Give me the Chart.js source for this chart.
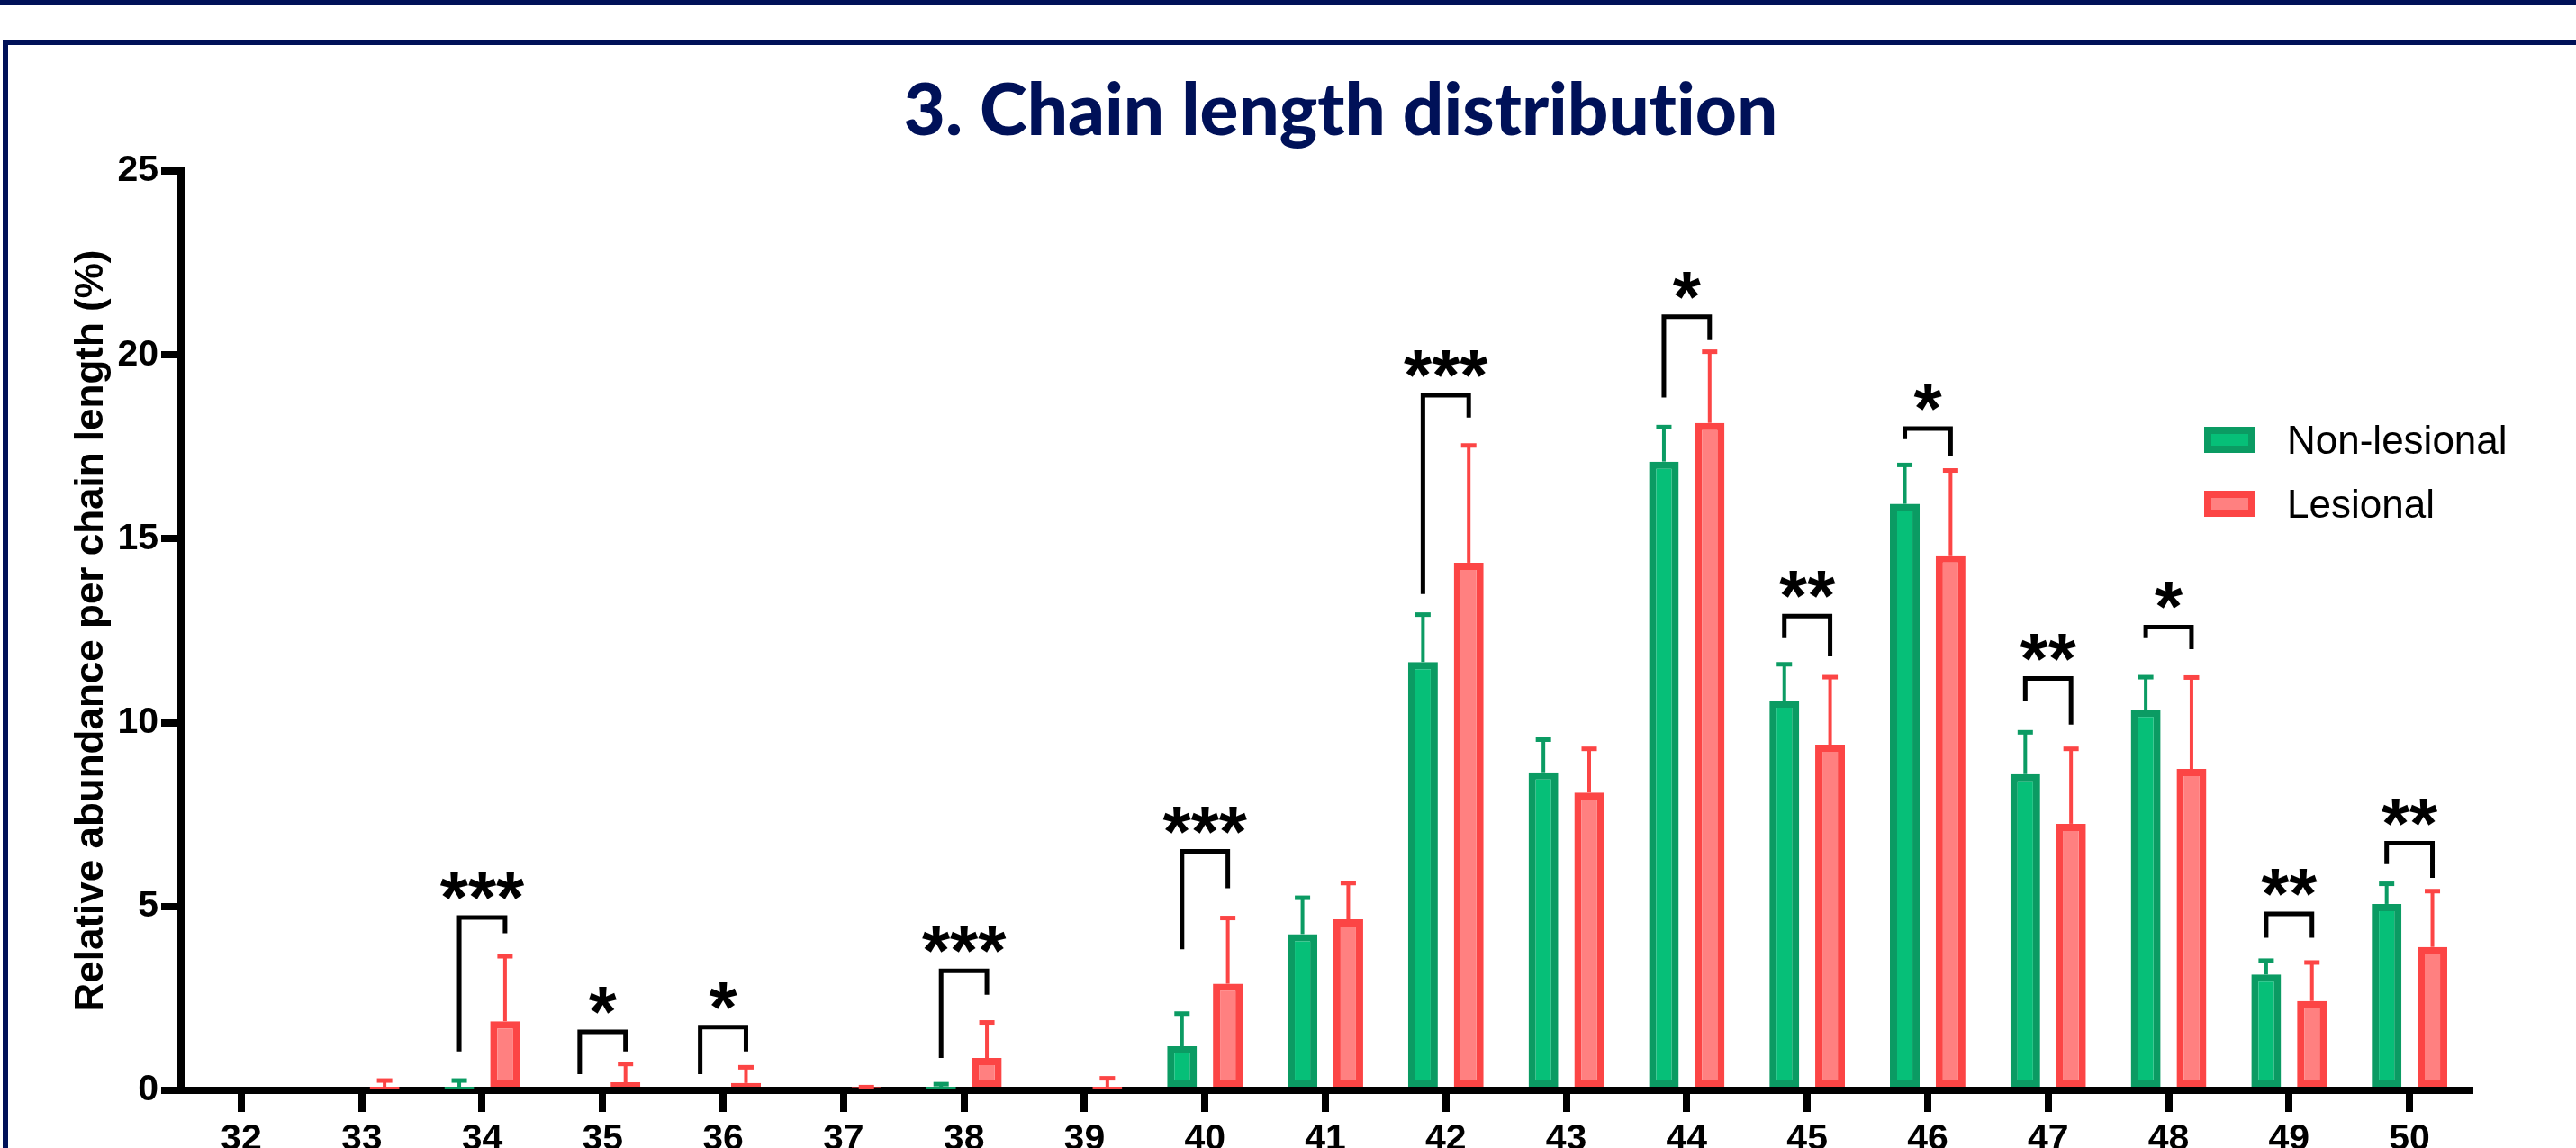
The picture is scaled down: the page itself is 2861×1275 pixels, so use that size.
<!DOCTYPE html>
<html>
<head>
<meta charset="utf-8">
<title>3. Chain length distribution</title>
<script src="https://cdn.jsdelivr.net/npm/chart.js"></script>
<style>
  html, body { margin: 0; padding: 0; background: #fff; width: 2861px; height: 1275px; overflow: hidden; }
  #topband { position: absolute; left: 0; top: 0; width: 100%; height: 5px; background: #001158; border-bottom: 1px solid #6473a3; }
  #frame { position: absolute; left: 3px; top: 44px; right: -20px; bottom: -20px; border-left: 6px solid #001158; border-top: 6px solid #001158; }
  #title { position: absolute; left: 1489px; top: 79px; transform: translateX(-50%); white-space: nowrap;
           font-family: Lato, "Open Sans", sans-serif; font-weight: 900; font-size: 80px; line-height: 80px; color: #001158;
           font-variant-ligatures: none; font-feature-settings: "liga" 0; }
  #wrap { position: absolute; left: 0; top: 0; width: 2861px; height: 1300px; }
  #legend { position: absolute; left: 2448px; top: 474px; font-family: "Liberation Sans", Arial, sans-serif; font-size: 44px; color: #000; }
  .row { display: flex; align-items: center; height: 29px; margin-bottom: 42px; }
  .box { width: 57px; height: 29px; box-sizing: border-box; border: 8px solid; margin-right: 35px; }
</style>
</head>
<body>
<div id="topband"></div>
<div id="frame"></div>
<div id="title">3. Chain length distribution</div>
<div id="wrap"><canvas id="chart"></canvas></div>
<div id="legend"></div>
<script>
const chainLengths = ['32', '33', '34', '35', '36', '37', '38', '39', '40', '41', '42', '43', '44', '45', '46', '47', '48', '49', '50'];

const nonLesional   = [0, 0, 0.03, 0, 0, 0, 0.03, 0, 1.2, 4.25, 11.65, 8.65, 17.1, 10.6, 15.95, 8.6, 10.35, 3.15, 5.07];
const nonLesionalSd = [0, 0, 0.25, 0, 0, 0, 0.15, 0, 0.9, 1.0, 1.3, 0.9, 0.95, 1.0, 1.07, 1.15, 0.9, 0.39, 0.56];

const lesional   = [0.1, 0.03, 1.88, 0.22, 0.2, 0.08, 0.88, 0.04, 2.9, 4.65, 14.35, 8.1, 18.15, 9.4, 14.55, 7.25, 8.74, 2.43, 3.9];
const lesionalSd = [0, 0.25, 1.78, 0.51, 0.44, 0.02, 0.98, 0.3, 1.8, 1.0, 3.2, 1.2, 1.95, 1.85, 2.32, 2.05, 2.5, 1.06, 1.53];

// significance brackets (values in % units)
const sigStars     = ['', '', '***', '*', '*', '', '***', '', '***', '', '***', '', '*', '**', '*', '**', '*', '**', '**'];
const bracketTop   = [null, null, 4.7, 1.59, 1.72, null, 3.25, null, 6.5, null, 18.9, null, 21.04, 12.9, 18.0, 11.2, 12.6, 4.8, 6.72];
const bracketLeft  = [null, null, 1.06, 0.44, 0.44, null, 0.88, null, 3.84, null, 13.5, null, 18.84, 12.3, 17.71, 10.6, 12.3, 4.15, 6.15];
const bracketRight = [null, null, 4.27, 1.06, 1.06, null, 2.6, null, 5.5, null, 18.3, null, 20.4, 11.8, 17.26, 9.95, 12.0, 4.15, 5.78];

const yTicks = [0, 5, 10, 15, 20, 25];

const GREEN_LINE = '#0b9b63', GREEN_FILL = '#06bf78';
const RED_LINE = '#fc4545', RED_FILL = '#ff8080';
const FONT = '"Liberation Sans", Arial, sans-serif';

const errorBars = {
  id: 'errorBars',
  afterDatasetsDraw(chart) {
    const c = chart.ctx, y = chart.scales.y;
    chart.data.datasets.forEach((ds, di) => {
      chart.getDatasetMeta(di).data.forEach((bar, i) => {
        const sd = ds.sd[i];
        if (!sd) return;
        const top = y.getPixelForValue(ds.data[i] + sd);
        c.save();
        c.fillStyle = ds.borderColor;
        c.fillRect(bar.x - 2, top, 4, bar.y - top);
        c.fillRect(bar.x - 8.5, top - 2, 17, 5);
        c.restore();
      });
    });
  }
};

const brackets = {
  id: 'brackets',
  afterDatasetsDraw(chart) {
    const c = chart.ctx, y = chart.scales.y;
    const g = chart.getDatasetMeta(0).data, r = chart.getDatasetMeta(1).data;
    c.save();
    c.strokeStyle = '#000';
    c.fillStyle = '#000';
    c.lineWidth = 5;
    c.lineJoin = 'miter';
    c.font = 'bold 80px ' + FONT;
    c.textAlign = 'center';
    sigStars.forEach((s, i) => {
      if (!s) return;
      const xl = g[i].x, xr = r[i].x;
      const yt = y.getPixelForValue(bracketTop[i]);
      c.beginPath();
      c.moveTo(xl, y.getPixelForValue(bracketLeft[i]));
      c.lineTo(xl, yt);
      c.lineTo(xr, yt);
      c.lineTo(xr, y.getPixelForValue(bracketRight[i]));
      c.stroke();
      const m = c.measureText(s);
      const off = (m.actualBoundingBoxAscent - m.actualBoundingBoxDescent) / 2;
      c.fillText(s, (xl + xr) / 2, yt - 35 + off);
    });
    c.restore();
  }
};

const chart = new Chart(document.getElementById('chart'), {
  type: 'bar',
  data: {
    labels: chainLengths,
    datasets: [
      { label: 'Non-lesional', data: nonLesional, sd: nonLesionalSd, backgroundColor: GREEN_FILL, borderColor: GREEN_LINE },
      { label: 'Lesional', data: lesional, sd: lesionalSd, backgroundColor: RED_FILL, borderColor: RED_LINE }
    ].map(d => Object.assign(d, { borderWidth: 8, borderSkipped: false, categoryPercentage: 0.76, barPercentage: 0.65 }))
  },
  options: {
    responsive: true,
    maintainAspectRatio: false,
    animation: false,
    layout: { padding: { left: 75, right: 118, top: 190, bottom: 9 } },
    plugins: { legend: { display: false }, tooltip: { enabled: false } },
    scales: {
      x: {
        grid: { drawOnChartArea: false, offset: false, tickLength: 24, lineWidth: 8, color: '#000' },
        border: { display: true, width: 8, color: '#000' },
        ticks: { color: '#000', font: { family: FONT, size: 41, weight: 'bold' }, padding: 6, maxRotation: 0, autoSkip: false },
        afterFit: s => { s.height = 80; }
      },
      y: {
        min: 0,
        max: 25,
        afterBuildTicks: s => { s.ticks = yTicks.map(v => ({ value: v })); },
        grid: { drawOnChartArea: false, tickLength: 22, lineWidth: 8, color: '#000' },
        border: { display: true, width: 8, color: '#000' },
        ticks: { color: '#000', font: { family: FONT, size: 41, weight: 'bold' }, padding: 3 },
        title: { display: true, text: 'Relative abundance per chain length (%)', color: '#000', padding: 0,
                 font: { family: FONT, size: 44, weight: 'bold' } },
        afterFit: s => { s.width = 126; }
      }
    }
  },
  plugins: [errorBars, brackets]
});

// legend from the datasets
const legend = document.getElementById('legend');
chart.data.datasets.forEach(ds => {
  const row = document.createElement('div');
  row.className = 'row';
  row.innerHTML = `<span class="box" style="background:${ds.backgroundColor};border-color:${ds.borderColor}"></span><span>${ds.label}</span>`;
  legend.appendChild(row);
});
</script>
</body>
</html>
